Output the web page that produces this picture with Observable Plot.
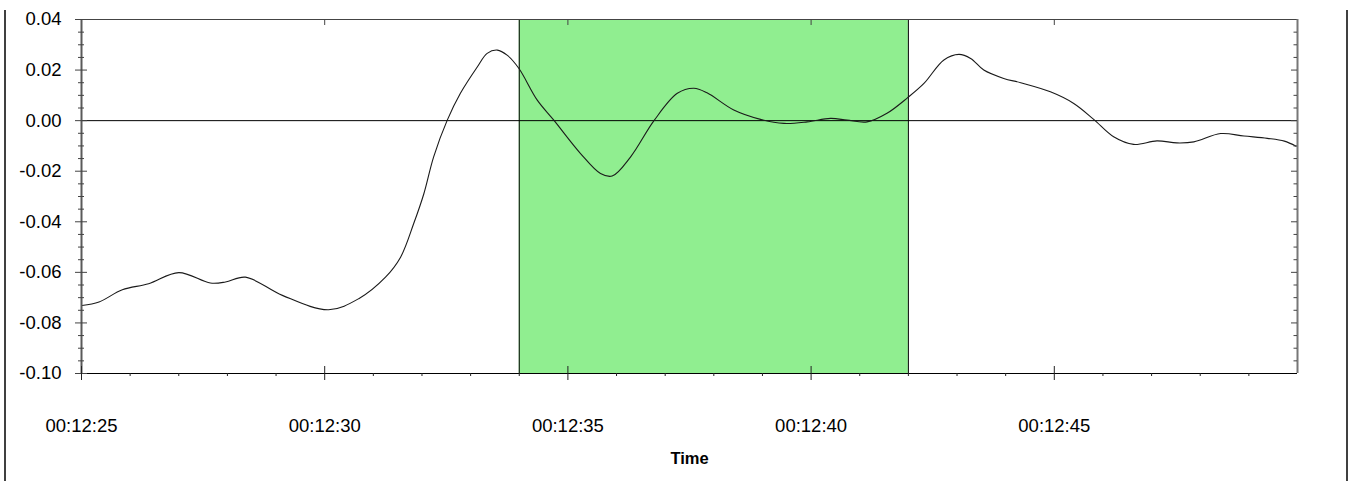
<!DOCTYPE html>
<html>
<head>
<meta charset="utf-8">
<script src="https://cdn.jsdelivr.net/npm/d3@7"></script>
<script src="https://cdn.jsdelivr.net/npm/@observablehq/plot@0.6"></script>
<style>
  html, body { margin: 0; padding: 0; background: #fff; }
  #chart { width: 1350px; height: 481px; }
</style>
</head>
<body>
<div id="chart"></div>
<script>
// Signal trace: seconds after 00:12:25 and the measured value
const seconds = [0.01, 0.36, 0.84, 1.38, 2.00, 2.65, 2.96, 3.37, 4.13, 5.08, 5.70, 6.25, 6.56, 6.83,
  7.04, 7.24, 7.52, 7.79, 8.14, 8.34, 8.55, 8.75, 8.99, 9.37, 9.71, 10.26, 10.67, 10.91, 11.29,
  11.77, 12.25, 12.59, 12.86, 13.41, 13.96, 14.44, 14.92, 15.40, 15.74, 16.15, 16.56, 16.98,
  17.32, 17.73, 18.04, 18.28, 18.55, 18.96, 19.31, 19.92, 20.40, 20.81, 21.22, 21.63, 22.11,
  22.52, 22.87, 23.42, 23.90, 24.38, 24.73, 24.97];
const values = [-0.0731, -0.0717, -0.0669, -0.0645, -0.0601, -0.0642, -0.0638, -0.0619, -0.0691,
  -0.0748, -0.0704, -0.0619, -0.0540, -0.0407, -0.0288, -0.0143, 0.0002, 0.0108, 0.0213, 0.0266,
  0.0279, 0.0259, 0.0207, 0.0081, 0.0002, -0.0130, -0.0209, -0.0219, -0.0143, 0.0000, 0.0108,
  0.0128, 0.0110, 0.0042, 0.0005, -0.0011, -0.0005, 0.0009, 0.0002, -0.0005, 0.0029, 0.0090,
  0.0147, 0.0240, 0.0262, 0.0246, 0.0200, 0.0167, 0.0150, 0.0114, 0.0068, 0.0005, -0.0064,
  -0.0094, -0.0080, -0.0088, -0.0084, -0.0051, -0.0061, -0.0070, -0.0081, -0.0101];

// Highlighted interval (seconds after 00:12:25)
const highlight = [{start: 9, end: 17}];

// Axes
const xDomain = [0, 25];
const yDomain = [-0.10, 0.04];
const xMajorTicks = [0, 5, 10, 15, 20];
const xTickLabels = ["00:12:25", "00:12:30", "00:12:35", "00:12:40", "00:12:45"];
const xMinorTicks = d3.range(1, 25).filter(s => s % 5 !== 0);
const yMajorTicks = [-0.10, -0.08, -0.06, -0.04, -0.02, 0.00, 0.02, 0.04];
const yMinorTicks = d3.range(-19, 8).map(k => k * 0.005).filter(v => Math.abs(Math.round(v * 1000)) % 20 !== 0);

const data = seconds.map((t, i) => ({t, v: values[i]}));
const xLo = xDomain[0], xHi = xDomain[1], yLo = yDomain[0], yHi = yDomain[1];

const chart = Plot.plot({
  width: 1350,
  height: 481,
  marginLeft: 81,
  marginRight: 53,
  marginTop: 19,
  marginBottom: 108,
  style: {fontFamily: "'Liberation Sans', Arial, sans-serif", fontSize: "18.5px", color: "#000", background: "#fff", overflow: "visible"},
  x: {domain: xDomain},
  y: {domain: yDomain},
  marks: [
    // highlighted interval
    Plot.rect(highlight, {x1: "start", x2: "end", y1: yLo, y2: yHi, fill: "#90EE90"}),
    Plot.ruleX(highlight.flatMap(d => [d.start, d.end]), {stroke: "#000", strokeWidth: 1}),
    // zero line
    Plot.ruleY([0], {stroke: "#000", strokeWidth: 1}),
    // signal
    Plot.line(data, {x: "t", y: "v", curve: "catmull-rom", stroke: "#1a1a1a", strokeWidth: 1.1}),
    // plot frame
    Plot.ruleY([yHi], {stroke: "#444", strokeWidth: 1}),
    Plot.ruleY([yLo], {stroke: "#000", strokeWidth: 1}),
    Plot.ruleX([xLo], {stroke: "#5a5a5a", strokeWidth: 2}),
    Plot.ruleX([xHi], {stroke: "#777", strokeWidth: 2}),
    // left y ticks (crossing the axis)
    Plot.ruleY(yMajorTicks, {x1: xLo, x2: xLo, insetLeft: -6, insetRight: -6, stroke: "#444", strokeWidth: 1}),
    Plot.ruleY(yMinorTicks, {x1: xLo, x2: xLo, insetLeft: -3, insetRight: -3, stroke: "#444", strokeWidth: 1}),
    // right y ticks (inside)
    Plot.ruleY(yMajorTicks.slice(1, -1), {x1: xHi, x2: xHi, insetLeft: -6, insetRight: 0, stroke: "#444", strokeWidth: 1}),
    Plot.ruleY(yMinorTicks, {x1: xHi, x2: xHi, insetLeft: -3.5, insetRight: 0, stroke: "#444", strokeWidth: 1}),
    // bottom x ticks
    Plot.ruleX(xMajorTicks, {y1: yLo, y2: yLo, insetTop: -7, insetBottom: -7, stroke: "#222", strokeWidth: 1}),
    Plot.ruleX(xMinorTicks, {y1: yLo, y2: yLo, insetTop: 0, insetBottom: -3, stroke: "#222", strokeWidth: 1}),
    // top x ticks (inside)
    Plot.ruleX(xMajorTicks.slice(1), {y1: yHi, y2: yHi, insetTop: 0, insetBottom: -6, stroke: "#444", strokeWidth: 1}),
    // tick labels
    Plot.axisY({ticks: yMajorTicks, tickSize: 0, tickPadding: 20, tickFormat: d => d.toFixed(2), label: null, fontSize: 18.5, fill: "#000"}),
    Plot.axisX({ticks: xMajorTicks, tickSize: 0, tickPadding: 45, tickFormat: (d, i) => xTickLabels[xMajorTicks.indexOf(d)], label: null, fontSize: 18.5, fill: "#000"}),
    // axis title
    Plot.text(["Time"], {frameAnchor: "bottom", dy: 85, lineAnchor: "middle", fontWeight: "bold", fontSize: 16.5, fill: "#000"})
  ]
});

document.getElementById("chart").appendChild(chart);

// outer border lines of the chart panel
const svg = d3.select(chart);
[5, 1347].forEach(x => {
  svg.append("line")
    .attr("x1", x).attr("x2", x)
    .attr("y1", 10).attr("y2", 481)
    .attr("stroke", "#000")
    .attr("stroke-width", 1.5);
});
</script>
</body>
</html>
